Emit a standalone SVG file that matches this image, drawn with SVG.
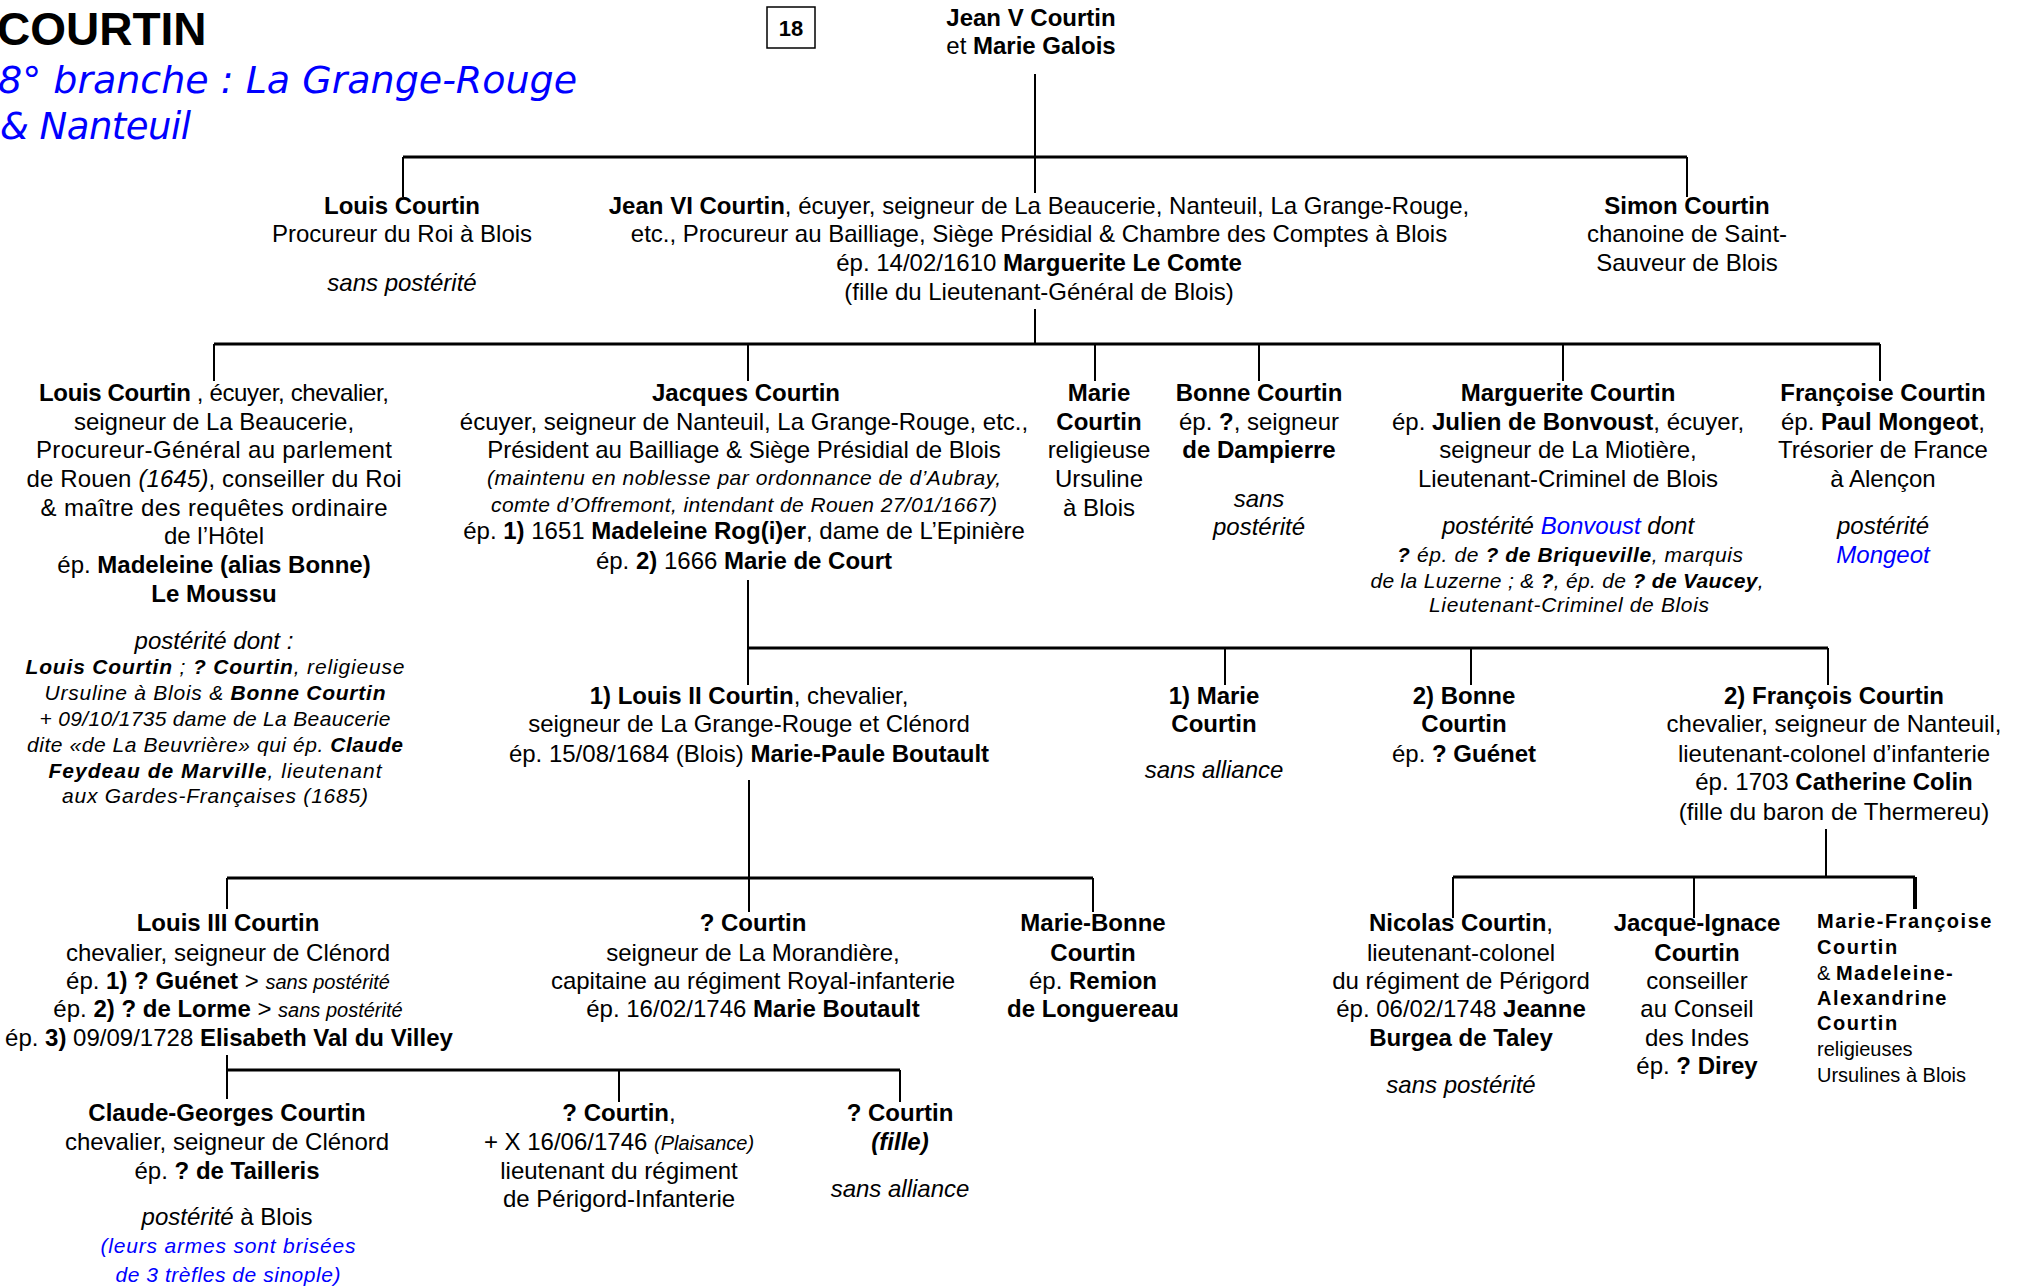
<svg xmlns="http://www.w3.org/2000/svg" width="2022" height="1287" viewBox="0 0 2022 1287">
<style>
text{font-family:"Liberation Sans",Arial,sans-serif;font-size:24px;fill:#000;text-anchor:middle}
.b{font-weight:bold}
.i{font-style:italic}
.s{font-size:21px}
.xs{font-size:20px}
.blue{fill:#0000ff}
.l{text-anchor:start}
.mf{font-size:20px;text-anchor:start}
.mf .b,.mfb{letter-spacing:1.5px}
.conn line{stroke:#000;stroke-width:2}
.conn line.h{stroke-width:3}
</style>
<rect width="2022" height="1287" fill="#fff"/>
<g id="title">
<text x="-3" y="45" class="b l" style="font-size:46px">COURTIN</text>
<text x="-2" y="93" class="l blue" style="font-family:'DejaVu Sans',Verdana,sans-serif;font-style:italic;font-size:38px">8° branche : La Grange-Rouge</text>
<text x="0" y="139" class="l blue" style="font-family:'DejaVu Sans',Verdana,sans-serif;font-style:italic;font-size:37px" textLength="191">&amp; Nanteuil</text>
</g>
<g id="page-number">
<rect x="767" y="7" width="48" height="41" fill="none" stroke="#000" stroke-width="1.5"/>
<text x="791" y="36" class="b" style="font-size:22px">18</text>
</g>
<g class="conn" id="connectors">
<line class="h" x1="403" y1="157" x2="1687" y2="157"/>
<line class="h" x1="214" y1="344" x2="1880" y2="344"/>
<line class="h" x1="748" y1="648" x2="1828" y2="648"/>
<line class="h" x1="227" y1="878" x2="1093" y2="878"/>
<line class="h" x1="227" y1="1070" x2="900" y2="1070"/>
<line class="h" x1="1453" y1="877" x2="1915" y2="877"/>
<line x1="1035" y1="74" x2="1035" y2="193"/>
<line x1="403" y1="157" x2="403" y2="197"/>
<line x1="1687" y1="157" x2="1687" y2="197"/>
<line x1="1035" y1="309" x2="1035" y2="344"/>
<line x1="214" y1="344" x2="214" y2="381"/>
<line x1="748" y1="344" x2="748" y2="381"/>
<line x1="1095" y1="344" x2="1095" y2="381"/>
<line x1="1259" y1="344" x2="1259" y2="381"/>
<line x1="1563" y1="344" x2="1563" y2="381"/>
<line x1="1880" y1="344" x2="1880" y2="381"/>
<line x1="748" y1="580" x2="748" y2="685"/>
<line x1="1225" y1="648" x2="1225" y2="685"/>
<line x1="1471" y1="648" x2="1471" y2="685"/>
<line x1="1828" y1="648" x2="1828" y2="685"/>
<line x1="749" y1="780" x2="749" y2="912"/>
<line x1="227" y1="878" x2="227" y2="909"/>
<line x1="1093" y1="878" x2="1093" y2="912"/>
<line x1="1826" y1="829" x2="1826" y2="877"/>
<line x1="1453" y1="877" x2="1453" y2="918"/>
<line x1="1694" y1="877" x2="1694" y2="918"/>
<line x1="1915" y1="877" x2="1915" y2="909" style="stroke-width:4"/>
<line x1="227" y1="1055" x2="227" y2="1099"/>
<line x1="619" y1="1070" x2="619" y2="1102"/>
<line x1="900" y1="1070" x2="900" y2="1102"/>
</g>
<g id="jean5">
<text x="1031" y="26" class="b">Jean V Courtin</text>
<text x="1031" y="54">et <tspan class="b">Marie Galois</tspan></text>
</g>
<g id="louis-g2">
<text x="402" y="214" class="b">Louis Courtin</text>
<text x="402" y="242">Procureur du Roi à Blois</text>
<text x="402" y="291" class="i">sans postérité</text>
</g>
<g id="jean6">
<text x="1039" y="214"><tspan class="b">Jean VI Courtin</tspan>, écuyer, seigneur de La Beaucerie, Nanteuil, La Grange-Rouge,</text>
<text x="1039" y="242">etc., Procureur au Bailliage, Siège Présidial &amp; Chambre des Comptes à Blois</text>
<text x="1039" y="271">ép. 14/02/1610 <tspan class="b">Marguerite Le Comte</tspan></text>
<text x="1039" y="300">(fille du Lieutenant-Général de Blois)</text>
</g>
<g id="simon">
<text x="1687" y="214" class="b">Simon Courtin</text>
<text x="1687" y="242">chanoine de Saint-</text>
<text x="1687" y="271">Sauveur de Blois</text>
</g>
<g id="louis-g3">
<text x="214" y="401" textLength="350"><tspan class="b">Louis Courtin</tspan> , écuyer, chevalier,</text>
<text x="214" y="430">seigneur de La Beaucerie,</text>
<text x="214" y="458" textLength="356">Procureur-Général au parlement</text>
<text x="214" y="487" textLength="375">de Rouen <tspan class="i">(1645)</tspan>, conseiller du Roi</text>
<text x="214" y="516" textLength="347">&amp; maître des requêtes ordinaire</text>
<text x="214" y="544">de l’Hôtel</text>
<text x="214" y="573">ép.  <tspan class="b">Madeleine (alias Bonne)</tspan></text>
<text x="214" y="602" class="b">Le Moussu</text>
<text x="214" y="649" class="i">postérité dont :</text>
<text x="215" y="674" class="i s" textLength="379"><tspan class="b">Louis Courtin</tspan> ; <tspan class="b">? Courtin</tspan>, religieuse</text>
<text x="215" y="700" class="i s" textLength="341">Ursuline à Blois &amp; <tspan class="b">Bonne Courtin</tspan></text>
<text x="215" y="726" class="i s" textLength="351">+ 09/10/1735 dame de La Beaucerie</text>
<text x="215" y="752" class="i s" textLength="376">dite «de La Beuvrière» qui ép. <tspan class="b">Claude</tspan></text>
<text x="215" y="778" class="i s" textLength="333"><tspan class="b">Feydeau de Marville</tspan>, lieutenant</text>
<text x="215" y="803" class="i s" textLength="306">aux Gardes-Françaises (1685)</text>
</g>
<g id="jacques">
<text x="746" y="401" class="b">Jacques Courtin</text>
<text x="744" y="430">écuyer, seigneur de Nanteuil, La Grange-Rouge, etc.,</text>
<text x="744" y="458">Président au Bailliage &amp; Siège Présidial de Blois</text>
<text x="744" y="485" class="i s" textLength="514">(maintenu en noblesse par ordonnance de d’Aubray,</text>
<text x="744" y="512" class="i s" textLength="506">comte d’Offremont, intendant de Rouen 27/01/1667)</text>
<text x="744" y="539">ép.  <tspan class="b">1)</tspan> 1651 <tspan class="b">Madeleine Rog(i)er</tspan>, dame de L’Epinière</text>
<text x="744" y="569">ép.  <tspan class="b">2)</tspan> 1666 <tspan class="b">Marie de Court</tspan></text>
</g>
<g id="marie-g3">
<text x="1099" y="401" class="b">Marie</text>
<text x="1099" y="430" class="b">Courtin</text>
<text x="1099" y="458">religieuse</text>
<text x="1099" y="487">Ursuline</text>
<text x="1099" y="516">à Blois</text>
</g>
<g id="bonne-g3">
<text x="1259" y="401" class="b">Bonne Courtin</text>
<text x="1259" y="430">ép. <tspan class="b">?</tspan>, seigneur</text>
<text x="1259" y="458" class="b">de Dampierre</text>
<text x="1259" y="507" class="i">sans</text>
<text x="1259" y="535" class="i">postérité</text>
</g>
<g id="marguerite">
<text x="1568" y="401" class="b">Marguerite Courtin</text>
<text x="1568" y="430">ép. <tspan class="b">Julien de Bonvoust</tspan>, écuyer,</text>
<text x="1568" y="458">seigneur de La Miotière,</text>
<text x="1568" y="487">Lieutenant-Criminel de Blois</text>
<text x="1568" y="534" class="i">postérité <tspan class="blue">Bonvoust</tspan> dont</text>
<text x="1570" y="562" class="i s" textLength="346"><tspan class="b">?</tspan> ép. de <tspan class="b">? de Briqueville</tspan>, marquis</text>
<text x="1567" y="588" class="i s" textLength="393">de la Luzerne ; &amp; <tspan class="b">?</tspan>, ép. de <tspan class="b">? de Vaucey</tspan>,</text>
<text x="1569" y="612" class="i s" textLength="280">Lieutenant-Criminel de Blois</text>
</g>
<g id="francoise">
<text x="1883" y="401" class="b">Françoise Courtin</text>
<text x="1883" y="430">ép. <tspan class="b">Paul Mongeot</tspan>,</text>
<text x="1883" y="458">Trésorier de France</text>
<text x="1883" y="487">à Alençon</text>
<text x="1883" y="534" class="i">postérité</text>
<text x="1883" y="563" class="i blue">Mongeot</text>
</g>
<g id="louis2">
<text x="749" y="704"><tspan class="b">1) Louis II Courtin</tspan>, chevalier,</text>
<text x="749" y="732">seigneur de La Grange-Rouge et Clénord</text>
<text x="749" y="762">ép. 15/08/1684 (Blois) <tspan class="b">Marie-Paule Boutault</tspan></text>
</g>
<g id="marie-g4">
<text x="1214" y="704" class="b">1) Marie</text>
<text x="1214" y="732" class="b">Courtin</text>
<text x="1214" y="778" class="i">sans alliance</text>
</g>
<g id="bonne-g4">
<text x="1464" y="704" class="b">2) Bonne</text>
<text x="1464" y="732" class="b">Courtin</text>
<text x="1464" y="762">ép. <tspan class="b">? Guénet</tspan></text>
</g>
<g id="francois">
<text x="1834" y="704" class="b">2) François Courtin</text>
<text x="1834" y="732">chevalier, seigneur de Nanteuil,</text>
<text x="1834" y="762">lieutenant-colonel d’infanterie</text>
<text x="1834" y="790">ép. 1703 <tspan class="b">Catherine Colin</tspan></text>
<text x="1834" y="820">(fille du baron de Thermereu)</text>
</g>
<g id="louis3">
<text x="228" y="931" class="b">Louis III Courtin</text>
<text x="228" y="961">chevalier, seigneur de Clénord</text>
<text x="228" y="989">ép. <tspan class="b">1) ? Guénet</tspan> &gt; <tspan class="i xs">sans postérité</tspan></text>
<text x="228" y="1017">ép. <tspan class="b">2) ? de Lorme</tspan> &gt; <tspan class="i xs">sans postérité</tspan></text>
<text x="229" y="1046">ép. <tspan class="b">3)</tspan> 09/09/1728 <tspan class="b">Elisabeth Val du Villey</tspan></text>
</g>
<g id="courtin-morandiere">
<text x="753" y="931" class="b">? Courtin</text>
<text x="753" y="961">seigneur de La Morandière,</text>
<text x="753" y="989">capitaine au régiment Royal-infanterie</text>
<text x="753" y="1017">ép. 16/02/1746 <tspan class="b">Marie Boutault</tspan></text>
</g>
<g id="marie-bonne">
<text x="1093" y="931" class="b">Marie-Bonne</text>
<text x="1093" y="961" class="b">Courtin</text>
<text x="1093" y="989">ép. <tspan class="b">Remion</tspan></text>
<text x="1093" y="1017" class="b">de Longuereau</text>
</g>
<g id="nicolas">
<text x="1461" y="931"><tspan class="b">Nicolas Courtin</tspan>,</text>
<text x="1461" y="961">lieutenant-colonel</text>
<text x="1461" y="989">du régiment de Périgord</text>
<text x="1461" y="1017">ép. 06/02/1748 <tspan class="b">Jeanne</tspan></text>
<text x="1461" y="1046" class="b">Burgea de Taley</text>
<text x="1461" y="1093" class="i">sans postérité</text>
</g>
<g id="jacque-ignace">
<text x="1697" y="931" class="b">Jacque-Ignace</text>
<text x="1697" y="961" class="b">Courtin</text>
<text x="1697" y="989">conseiller</text>
<text x="1697" y="1017">au Conseil</text>
<text x="1697" y="1046">des Indes</text>
<text x="1697" y="1074">ép. <tspan class="b">? Direy</tspan></text>
</g>
<g id="marie-francoise">
<text x="1817" y="928" class="mf"><tspan class="b">Marie-Françoise</tspan></text>
<text x="1817" y="954" class="mf"><tspan class="b">Courtin</tspan></text>
<text x="1817" y="980" class="mf">&amp; <tspan class="b">Madeleine-</tspan></text>
<text x="1817" y="1005" class="mf"><tspan class="b">Alexandrine</tspan></text>
<text x="1817" y="1030" class="mf"><tspan class="b">Courtin</tspan></text>
<text x="1817" y="1056" class="mf">religieuses</text>
<text x="1817" y="1082" class="mf">Ursulines à Blois</text>
</g>
<g id="claude-georges">
<text x="227" y="1121" class="b">Claude-Georges Courtin</text>
<text x="227" y="1150">chevalier, seigneur de Clénord</text>
<text x="227" y="1179">ép. <tspan class="b">? de Tailleris</tspan></text>
<text x="227" y="1225"><tspan class="i">postérité</tspan> à Blois</text>
<text x="228" y="1253" class="i s blue" textLength="255">(leurs armes sont brisées</text>
<text x="228" y="1282" class="i s blue" textLength="225">de 3 trèfles de sinople)</text>
</g>
<g id="courtin-plaisance">
<text x="619" y="1121"><tspan class="b">? Courtin</tspan>,</text>
<text x="619" y="1150">+ X 16/06/1746 <tspan class="i xs">(Plaisance)</tspan></text>
<text x="619" y="1179">lieutenant du régiment</text>
<text x="619" y="1207">de Périgord-Infanterie</text>
</g>
<g id="courtin-fille">
<text x="900" y="1121" class="b">? Courtin</text>
<text x="900" y="1150" class="b i">(fille)</text>
<text x="900" y="1197" class="i">sans alliance</text>
</g>
</svg>
